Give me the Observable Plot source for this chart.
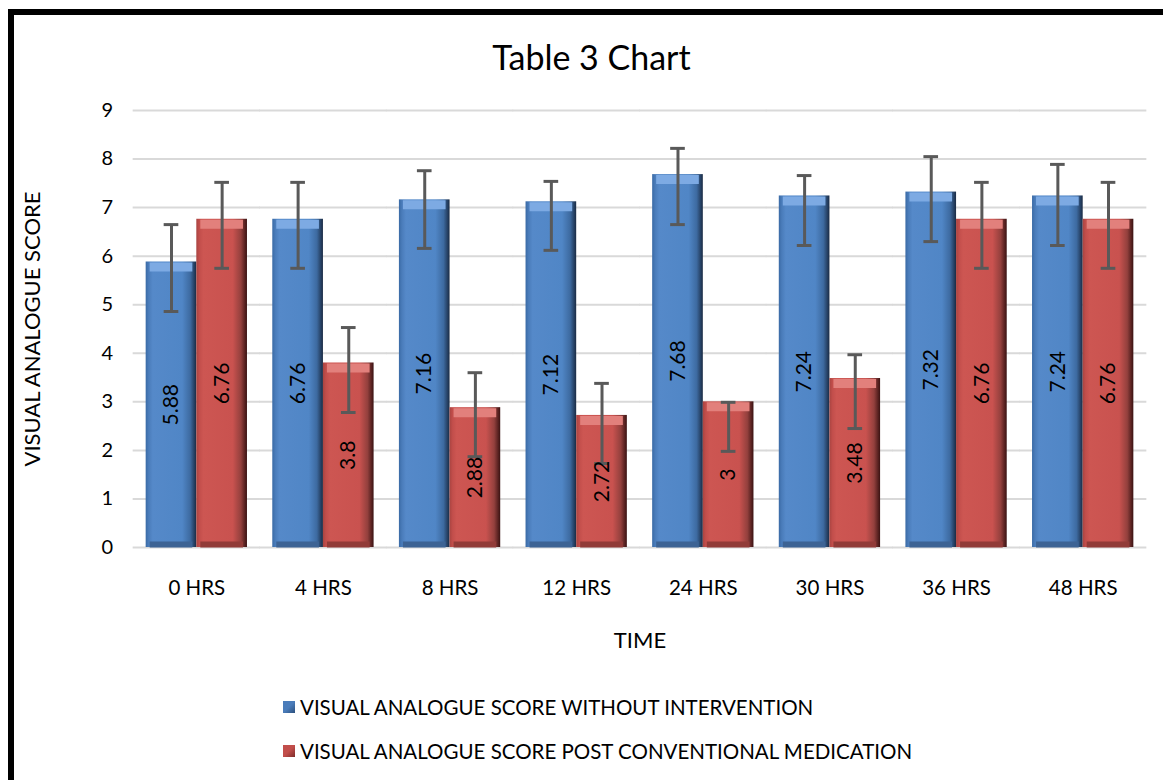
<!DOCTYPE html>
<html>
<head>
<meta charset="utf-8">
<script src="https://cdn.jsdelivr.net/npm/d3@7"></script>
<script src="https://cdn.jsdelivr.net/npm/@observablehq/plot@0.6"></script>
<style>
  html, body { margin: 0; padding: 0; background: #fff; width: 1163px; height: 780px; overflow: hidden; font-family: Lato, "Open Sans", sans-serif; color: #000; }
  #frame { position: absolute; left: 8px; top: 9px; width: 1400px; height: 1000px; border: 6px solid #000; box-sizing: border-box; }
  #title { position: absolute; left: 0; width: 1183px; top: 39px; text-align: center; font-size: 34px; line-height: 36px; }
  #chart { position: absolute; left: 0; top: 85px; }
  #legend { position: absolute; left: 283px; top: 695px; font-size: 20.5px; }
  .row { display: flex; align-items: center; height: 24px; margin-bottom: 20px; }
  .sw { width: 12px; height: 12px; margin-right: 5px; }
</style>
</head>
<body>
<div id="frame"></div>
<div id="title">Table 3 Chart</div>
<div id="chart"></div>
<div id="legend"></div>
<script>
const times = ["0 HRS", "4 HRS", "8 HRS", "12 HRS", "24 HRS", "30 HRS", "36 HRS", "48 HRS"];
const seriesNames = ["VISUAL ANALOGUE SCORE WITHOUT INTERVENTION", "VISUAL ANALOGUE SCORE POST CONVENTIONAL MEDICATION"];
const withoutIntervention = [5.88, 6.76, 7.16, 7.12, 7.68, 7.24, 7.32, 7.24];
const postMedication = [6.76, 3.8, 2.88, 2.72, 3, 3.48, 6.76, 6.76];
const withoutLow = [4.86, 5.75, 6.16, 6.12, 6.65, 6.22, 6.30, 6.22];
const withoutHigh = [6.65, 7.52, 7.76, 7.54, 8.22, 7.66, 8.05, 7.89];
const postLow = [5.75, 2.78, 1.87, 1.73, 1.98, 2.45, 5.75, 5.75];
const postHigh = [7.52, 4.53, 3.60, 3.38, 2.99, 3.97, 7.52, 7.52];
const yTicks = [0, 1, 2, 3, 4, 5, 6, 7, 8, 9];

const rows = times.flatMap((t, i) => [
  {time: t, series: seriesNames[0], value: withoutIntervention[i], lo: withoutLow[i], hi: withoutHigh[i]},
  {time: t, series: seriesNames[1], value: postMedication[i], lo: postLow[i], hi: postHigh[i]}
]);
const blueRows = rows.filter(d => d.series === seriesNames[0]);
const redRows = rows.filter(d => d.series === seriesNames[1]);

const plot = Plot.plot({
  width: 1163,
  height: 580,
  marginLeft: 133,
  marginRight: 17,
  marginTop: 25,
  marginBottom: 118,
  style: {fontFamily: "Lato, 'Open Sans', sans-serif", fontSize: "19px", color: "#000", background: "transparent", overflow: "visible"},
  fx: {domain: times, paddingInner: 0.2, paddingOuter: 0.1, round: false},
  x: {domain: seriesNames, padding: 0, axis: null, round: false},
  y: {domain: [0, 9]},
  marks: [
    Plot.ruleY(yTicks, {y: d => d, stroke: "#d9d9d9", strokeWidth: 2, insetLeft: -13, insetRight: -13}),
    Plot.barY(blueRows, {fx: "time", x: "series", y: "value", fill: "url(#gBlue)"}),
    Plot.barY(redRows, {fx: "time", x: "series", y: "value", fill: "url(#gRed)"}),
    Plot.tickY(blueRows, {fx: "time", x: "series", y: "value", stroke: "#7daae3", strokeWidth: 9, dy: 5, insetLeft: 4, insetRight: 4}),
    Plot.tickY(redRows, {fx: "time", x: "series", y: "value", stroke: "#e2807c", strokeWidth: 9, dy: 5, insetLeft: 4, insetRight: 4}),
    Plot.tickY(blueRows, {fx: "time", x: "series", y: 0, stroke: "#3d6394", strokeWidth: 6, dy: -3, insetLeft: 4, insetRight: 4}),
    Plot.tickY(redRows, {fx: "time", x: "series", y: 0, stroke: "#913b38", strokeWidth: 6, dy: -3, insetLeft: 4, insetRight: 4}),
    Plot.ruleX(rows, {fx: "time", x: "series", y1: "lo", y2: "hi", stroke: "#595959", strokeWidth: 3}),
    Plot.tickY(rows, {fx: "time", x: "series", y: "lo", stroke: "#595959", strokeWidth: 3, insetLeft: 18, insetRight: 18}),
    Plot.tickY(rows, {fx: "time", x: "series", y: "hi", stroke: "#595959", strokeWidth: 3, insetLeft: 18, insetRight: 18}),
    Plot.text(rows, {fx: "time", x: "series", y: d => d.value / 2, text: d => String(d.value), rotate: -90, fontSize: 21, fill: "#000"}),
    Plot.axisY({ticks: yTicks, tickSize: 0, tickPadding: 33, label: null, fontSize: 20}),
    Plot.axisY({ticks: [], tickSize: 0, label: "VISUAL ANALOGUE SCORE", labelArrow: "none", labelAnchor: "center", labelOffset: 122, fontSize: 22}),
    Plot.axisFx({anchor: "bottom", tickSize: 0, tickPadding: 33, label: null, fontSize: 20.5}),
    Plot.axisFx({anchor: "bottom", ticks: [], tickSize: 0, label: "TIME", labelArrow: "none", labelAnchor: "center", labelOffset: 100, fontSize: 22})
  ]
});

const svg = d3.select(plot);
const defs = svg.insert("defs", ":first-child");
function grad(id, stops) {
  const g = defs.append("linearGradient").attr("id", id).attr("x1", 0).attr("x2", 1).attr("y1", 0).attr("y2", 0);
  stops.forEach(([o, c]) => g.append("stop").attr("offset", o).attr("stop-color", c));
}
grad("gBlue", [[0, "#3a6aa5"], [0.06, "#4a7cba"], [0.14, "#5589c9"], [0.72, "#5086c6"], [0.88, "#3d6aa0"], [1, "#1a2b44"]]);
grad("gRed", [[0, "#a94441"], [0.06, "#c24e4b"], [0.14, "#cd5652"], [0.72, "#c9524f"], [0.88, "#93403d"], [1, "#3a1212"]]);
document.getElementById("chart").appendChild(plot);

const legend = d3.select("#legend");
const swatches = [["#4a7cba", "#2c4f7c"], ["#c24e4b", "#7d2c2a"]];
seriesNames.forEach((name, i) => {
  const r = legend.append("div").attr("class", "row");
  r.append("div").attr("class", "sw").style("background", `linear-gradient(135deg, ${swatches[i][0]} 0%, ${swatches[i][0]} 50%, ${swatches[i][1]} 100%)`);
  r.append("span").text(name);
});
</script>
</body>
</html>
